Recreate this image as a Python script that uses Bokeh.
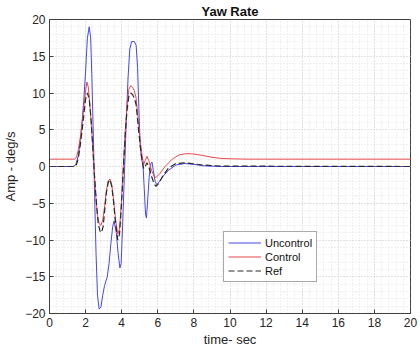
from bokeh.plotting import figure
from bokeh.models import (SingleIntervalTicker, LinearAxis, Range1d, Legend, LegendItem, Grid)
from bokeh.embed import file_html
from bokeh.resources import INLINE

# ---- data ----
t_unc = [0, 1.3, 1.45, 1.6, 1.75, 1.9, 2.0, 2.1, 2.2, 2.28, 2.35, 2.43, 2.5, 2.58, 2.66,
         2.75, 2.85, 2.95, 3.05, 3.2, 3.3, 3.4, 3.5, 3.58, 3.7, 3.8, 3.9, 3.97, 4.05,
         4.15, 4.25, 4.35, 4.45, 4.55, 4.7, 4.8, 4.88, 4.95, 5.02, 5.1, 5.18, 5.25,
         5.32, 5.37, 5.43, 5.52, 5.62, 5.68, 5.75, 5.85, 5.95, 6.1, 6.3, 6.6, 7.0, 7.5,
         8.0, 8.5, 9.5, 20]
y_unc = [0, 0, 0.2, 1.5, 4.5, 9, 13, 17.5, 19, 17.5, 12, 4, -4, -12, -17.5,
         -19.4, -19.1, -17.5, -16.2, -15, -13.2, -10.5, -8.2, -7.4, -9, -11.8, -13.8, -13.2, -8,
         -1, 6, 12, 16, 17, 17, 16.5, 13.5, 8, 3, 1, 0.2, -3,
         -6.5, -7, -5, -1.5, 0.4, 0.6, -0.5, -2, -2.5, -2, -1.3, -0.5, 0.2, 0.4,
         0.3, 0.1, 0, 0]

t_ctl = [0, 1.4, 1.5, 1.6, 1.7, 1.8, 1.9, 2.0, 2.07, 2.15, 2.25, 2.35, 2.45, 2.55, 2.65,
         2.75, 2.85, 2.95, 3.05, 3.15, 3.25, 3.35, 3.45, 3.55, 3.65, 3.78, 3.88, 3.98, 4.1,
         4.2, 4.3, 4.4, 4.5, 4.6, 4.7, 4.8, 4.95, 5.05, 5.14, 5.22, 5.3, 5.4, 5.5, 5.65,
         5.8, 5.9, 6.1, 6.4, 6.8, 7.2, 7.6, 8.0, 8.5, 9.0, 9.5, 10, 11, 20]
y_ctl = [1, 1, 1.3, 2.3, 3.8, 5.8, 8, 10.3, 11.5, 10.8, 8, 4.5, 0.5, -3.5, -6.5,
         -7.8, -8, -7.3, -5.5, -3.3, -2, -1.7, -2.5, -4.5, -7, -9.2, -8.5, -5, 0.5,
         5, 8.5, 10.5, 11, 10.8, 10.3, 9.3, 5.4, 3, 1.3, 0.3, 0.8, 1.4, 0.8, -0.5,
         -1.3, -1.5, -1, 0, 1, 1.6, 1.75, 1.7, 1.5, 1.25, 1.1, 1.05, 1, 1]

t_ref = [0, 1.4, 1.5, 1.6, 1.7, 1.8, 1.9, 2.0, 2.1, 2.2, 2.3, 2.4, 2.5, 2.6, 2.7,
         2.8, 2.88, 2.97, 3.05, 3.15, 3.25, 3.35, 3.45, 3.55, 3.65, 3.78, 3.88, 3.98, 4.1,
         4.2, 4.3, 4.4, 4.5, 4.6, 4.7, 4.8, 4.95, 5.05, 5.14, 5.22, 5.3, 5.4, 5.5, 5.65,
         5.8, 5.9, 6.05, 6.3, 6.6, 7.0, 7.5, 8.0, 8.5, 9.5, 20]
y_ref = [0, 0, 0.3, 1.2, 2.8, 4.8, 7, 9.2, 10, 9.2, 6.5, 2.5, -1.5, -5, -7.8,
         -8.8, -9, -8.2, -6.2, -3.6, -2.2, -1.8, -2.7, -4.8, -7.5, -10, -9.2, -5.5, 0,
         4.5, 7.8, 9.6, 10, 9.8, 9.3, 8.4, 4.6, 2.3, 0.6, -0.3, 0, 0.5, 0, -1.3,
         -2.4, -2.7, -2.3, -1.2, -0.2, 0.4, 0.5, 0.35, 0.2, 0.05, 0]

x_ticks_interval = 2
y_ticks_interval = 5
title_text = "Yaw Rate"
x_label = "time- sec"
y_label = "Amp - deg/s"
series_names = ["Uncontrol", "Control", "Ref"]

FONT = "Liberation Sans"
AX = "#404040"

p = figure(width=420, height=351, output_backend="svg", toolbar_location=None,
           x_range=Range1d(0, 20), y_range=Range1d(-20, 20),
           min_border_left=40, min_border_right=10, min_border_top=19, min_border_bottom=38,
           background_fill_color="white", border_fill_color="white",
           x_axis_type=None, y_axis_type=None)

p.title.text = title_text
p.title.align = "center"
p.title.text_font = FONT
p.title.text_font_size = "13px"
p.title.text_font_style = "bold"
p.title.text_color = "#111111"
p.title.offset = 0
p.title.standoff = 2

p.outline_line_color = AX
p.outline_line_width = 1

xt = SingleIntervalTicker(interval=x_ticks_interval, num_minor_ticks=5)
yt = SingleIntervalTicker(interval=y_ticks_interval, num_minor_ticks=5)

def style_axis(ax):
    ax.axis_line_color = AX
    ax.major_tick_line_color = AX
    ax.major_tick_in = 4
    ax.major_tick_out = 0
    ax.minor_tick_in = 0
    ax.minor_tick_out = 0
    ax.major_label_text_font = FONT
    ax.major_label_text_color = "#262626"
    ax.major_label_text_font_size = "12px"
    ax.axis_label_text_font = FONT
    ax.axis_label_text_font_style = "normal"
    ax.axis_label_text_color = "#262626"
    ax.axis_label_text_font_size = "13px"

xa = LinearAxis(ticker=xt, axis_label=x_label)
style_axis(xa)
xa.major_label_standoff = 4
xa.axis_label_standoff = 2
p.add_layout(xa, "below")

ya = LinearAxis(ticker=yt, axis_label=y_label)
style_axis(ya)
ya.major_label_standoff = 4
ya.axis_label_standoff = 4
p.add_layout(ya, "left")

gx = Grid(dimension=0, ticker=xt)
gy = Grid(dimension=1, ticker=yt)
for g in (gx, gy):
    g.grid_line_color = "#d2d2d2"
    g.grid_line_dash = "1 2"
    g.grid_line_width = 1
    g.minor_grid_line_color = "#e2e2e2"
    g.minor_grid_line_dash = "1 2"
    g.minor_grid_line_width = 1
p.add_layout(gx)
p.add_layout(gy)

r1 = p.line(t_unc, y_unc, line_color="#4646e8", line_width=1.0)
r2 = p.line(t_ctl, y_ctl, line_color="#e84848", line_width=1.0)
r3 = p.line(t_ref, y_ref, line_color="#2a2a2a", line_width=1.2, line_dash="6 3")

legend = Legend(items=[LegendItem(label=series_names[0], renderers=[r1]),
                       LegendItem(label=series_names[1], renderers=[r2]),
                       LegendItem(label=series_names[2], renderers=[r3])],
                location=(174, 31))
legend.label_text_font = FONT
legend.label_text_font_size = "11px"
legend.label_text_color = "#111111"
legend.glyph_width = 33
legend.glyph_height = 13
legend.label_height = 13
legend.label_standoff = 4
legend.spacing = 1
legend.padding = 4
legend.margin = 0
legend.border_line_color = "#555555"
legend.border_line_width = 1
legend.background_fill_color = "white"
legend.background_fill_alpha = 1
p.add_layout(legend, "center")

open("out.html", "w").write(file_html(p, INLINE))
